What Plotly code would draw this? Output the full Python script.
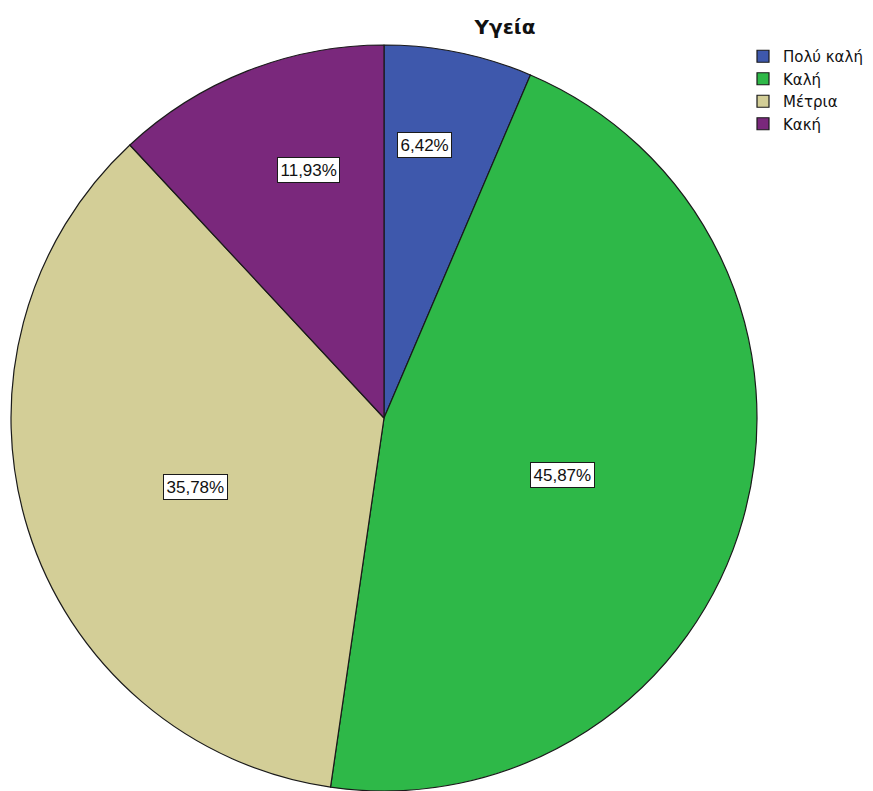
import math
import plotly.graph_objects as go

# Self-rated health distribution (percent of respondents)
categories = ["Πολύ καλή", "Καλή", "Μέτρια", "Κακή"]
percentages = [6.42, 45.87, 35.78, 11.93]
colors = ["#3E58AC", "#2EB848", "#D3CE97", "#7A287C"]

W, H = 873, 791
# Pie box in pixels (left, right, top, bottom)
px_left, px_right, px_top, px_bottom = 11, 757, 45, 791

fig = go.Figure(
    go.Pie(
        labels=categories,
        values=percentages,
        sort=False,
        direction="clockwise",
        rotation=0,
        marker=dict(colors=colors, line=dict(color="#1a1a1a", width=1.2)),
        textinfo="none",
        hoverinfo="skip",
        domain=dict(x=[px_left / W, px_right / W], y=[1 - px_bottom / H, 1 - px_top / H]),
    )
)

# Boxed percentage labels placed along each slice's bisector
cx = (px_left + px_right) / 2
cy = (px_top + px_bottom) / 2
radius = (px_right - px_left) / 2
label_radius = [0.741, 0.502, 0.538, 0.696]
angle_nudge = [-3.2, 2.0, -2.7, 4.6]

total = sum(percentages)
cum = 0.0
for val, rf, nudge in zip(percentages, label_radius, angle_nudge):
    mid = (cum + val / 2) / total * 360 + nudge
    cum += val
    a = math.radians(mid)
    lx = cx + rf * radius * math.sin(a)
    ly = cy - rf * radius * math.cos(a)
    fig.add_annotation(
        x=lx / W,
        y=1 - ly / H,
        xref="paper",
        yref="paper",
        xanchor="center",
        yanchor="middle",
        text=f"{val:.2f}%".replace(".", ","),
        showarrow=False,
        font=dict(family="Liberation Sans, Arial, sans-serif", size=17, color="#111111"),
        bgcolor="white",
        bordercolor="#1a1a1a",
        borderwidth=1,
        borderpad=2.5,
    )

fig.update_layout(
    width=W,
    height=H,
    margin=dict(l=0, r=0, t=0, b=0),
    paper_bgcolor="white",
    plot_bgcolor="white",
    title=dict(
        text="<b>Υγεία</b>",
        x=505 / W,
        xanchor="center",
        y=1 - 27 / H,
        yanchor="middle",
        font=dict(family="DejaVu Sans, sans-serif", size=20, color="#111111"),
    ),
    legend=dict(
        x=743 / W,
        xanchor="left",
        y=1 - 40 / H,
        yanchor="top",
        font=dict(family="DejaVu Sans, sans-serif", size=15, color="#111111"),
        bgcolor="rgba(0,0,0,0)",
        itemwidth=30,
        traceorder="normal",
    ),
    showlegend=True,
)

fig.write_html("out.html")
